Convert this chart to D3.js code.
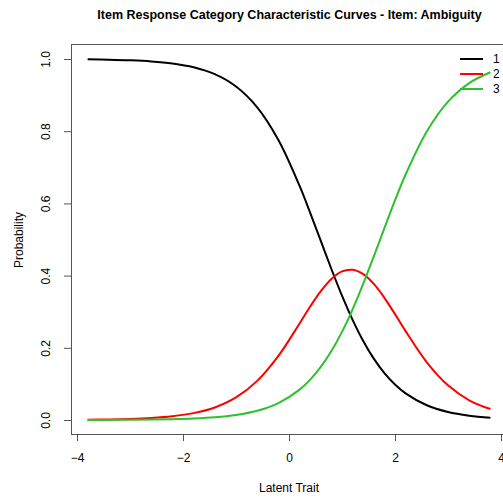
<!DOCTYPE html>
<html>
<head>
<meta charset="utf-8">
<script src="https://cdn.jsdelivr.net/npm/d3@7"></script>
<style>
    body { margin: 0; background: #fff; }
    svg { font-family: "Liberation Sans", Arial, Helvetica, sans-serif; }
</style>
</head>
<body>
<svg id="chart"></svg>
<script>
// values
const theta = [-3.8, -3.4, -3.0, -2.6, -2.2, -1.8, -1.4, -1.0, -0.6, -0.2,
    0.2, 0.4, 0.6, 0.8, 1.0, 1.2, 1.4, 1.6, 1.8, 2.0, 2.2, 2.6, 3.0, 3.4, 3.8];
const cat1 = [0.9990, 0.9981, 0.9964, 0.9934, 0.9876, 0.9771, 0.9579, 0.9238, 0.8662, 0.7756,
    0.6484, 0.5740, 0.4961, 0.4183, 0.3443, 0.2773, 0.2189, 0.1700, 0.1301, 0.0985, 0.0739, 0.0409, 0.0222, 0.0120, 0.0064];
const cat2 = [0.0009, 0.0016, 0.0029, 0.0055, 0.0103, 0.0190, 0.0347, 0.0624, 0.1083, 0.1776,
    0.2674, 0.3142, 0.3568, 0.3908, 0.4116, 0.4161, 0.4040, 0.3770, 0.3385, 0.2933, 0.2461, 0.1598, 0.0960, 0.0547, 0.0303];
const cat3 = [0.0002, 0.0003, 0.0006, 0.0011, 0.0021, 0.0040, 0.0074, 0.0138, 0.0255, 0.0468,
    0.0842, 0.1118, 0.1471, 0.1909, 0.2441, 0.3066, 0.3771, 0.4530, 0.5314, 0.6082, 0.6800, 0.7993, 0.8818, 0.9333, 0.9633];
const categories = ["1", "2", "3"];
const colors = ["#000000", "#ff0000", "#2ec02e"];
const xTicks = [-4, -2, 0, 2, 4];
const yTicks = [0, 0.2, 0.4, 0.6, 0.8, 1.0];

class CategoryCurves {
    margin = {
        top: 44, right: -10, bottom: 67, left: 71
    }

    constructor(svg, width = 503, height = 501) {
        this.svg = svg;
        this.width = width;
        this.height = height;
        this.series = [cat1, cat2, cat3].map((vals, i) => ({
            name: categories[i],
            color: colors[i],
            values: theta.map((t, j) => ({ t: t, p: vals[j] }))
        }));
    }

    initialize() {
        this.svg = d3.select(this.svg)
            .attr("width", this.width)
            .attr("height", this.height);

        this.svg.append("rect")
            .attr("width", this.width)
            .attr("height", this.height)
            .attr("fill", "#fff");

        const plotBottom = this.height - this.margin.bottom;

        this.x = d3.scaleLinear()
            .domain([-4, 4])
            .range([77, 501]);

        this.y = d3.scaleLinear()
            .domain([0, 1])
            .range([420, 59]);

        // axes
        const xAxisCall = d3.axisBottom(this.x)
            .tickValues(xTicks)
            .tickSize(7)
            .tickSizeOuter(0)
            .tickPadding(12)
            .tickFormat(d3.format("d"));
        this.xAxis = this.svg.append("g")
            .attr("transform", `translate(0, ${plotBottom})`)
            .call(xAxisCall);

        const yAxisCall = d3.axisLeft(this.y)
            .tickValues(yTicks)
            .tickSize(7)
            .tickSizeOuter(0)
            .tickFormat(d3.format(".1f"));
        this.yAxis = this.svg.append("g")
            .attr("transform", `translate(${this.margin.left}, 0)`)
            .call(yAxisCall);

        this.yAxis.selectAll(".tick text")
            .attr("transform", "rotate(-90)")
            .attr("x", 0)
            .attr("y", -21)
            .attr("dy", 0)
            .attr("text-anchor", "middle");

        [this.xAxis, this.yAxis].forEach(g => {
            g.selectAll("path, line").attr("stroke", "#555");
            g.selectAll("text").attr("font-size", 12).attr("fill", "#000")
                .attr("font-family", "Liberation Sans, Arial, sans-serif");
        });

        // plot box, runs off the right edge like the original
        this.svg.append("rect")
            .attr("x", this.margin.left + 0.5)
            .attr("y", this.margin.top + 0.5)
            .attr("width", this.width - this.margin.left - this.margin.right)
            .attr("height", plotBottom - this.margin.top)
            .attr("fill", "none")
            .attr("stroke", "#555");

        // curves
        const line = d3.line()
            .x(d => this.x(d.t))
            .y(d => this.y(d.p))
            .curve(d3.curveCatmullRom);

        this.svg.append("g")
            .selectAll("path")
            .data(this.series)
            .join("path")
            .attr("d", d => line(d.values))
            .attr("fill", "none")
            .attr("stroke", d => d.color)
            .attr("stroke-width", 2);

        // legend (no box)
        const legend = this.svg.append("g")
            .selectAll("g")
            .data(this.series)
            .join("g")
            .attr("transform", (d, i) => `translate(460, ${59 + i * 15})`);

        legend.append("line")
            .attr("x1", 0)
            .attr("x2", 23)
            .attr("stroke", d => d.color)
            .attr("stroke-width", 2);

        legend.append("text")
            .attr("x", 33)
            .attr("dy", "0.35em")
            .attr("font-size", 12)
            .text(d => d.name);

        // titles
        this.svg.append("text")
            .attr("x", 289.5)
            .attr("y", 19)
            .attr("text-anchor", "middle")
            .attr("font-size", 12.5)
            .attr("font-weight", "bold")
            .text("Item Response Category Characteristic Curves - Item: Ambiguity");

        this.svg.append("text")
            .attr("x", 289)
            .attr("y", 492)
            .attr("text-anchor", "middle")
            .attr("font-size", 12)
            .text("Latent Trait");

        this.svg.append("text")
            .attr("transform", "translate(23, 240) rotate(-90)")
            .attr("text-anchor", "middle")
            .attr("font-size", 12)
            .text("Probability");
    }
}

const chart = new CategoryCurves(document.getElementById("chart"));
chart.initialize();
</script>
</body>
</html>
